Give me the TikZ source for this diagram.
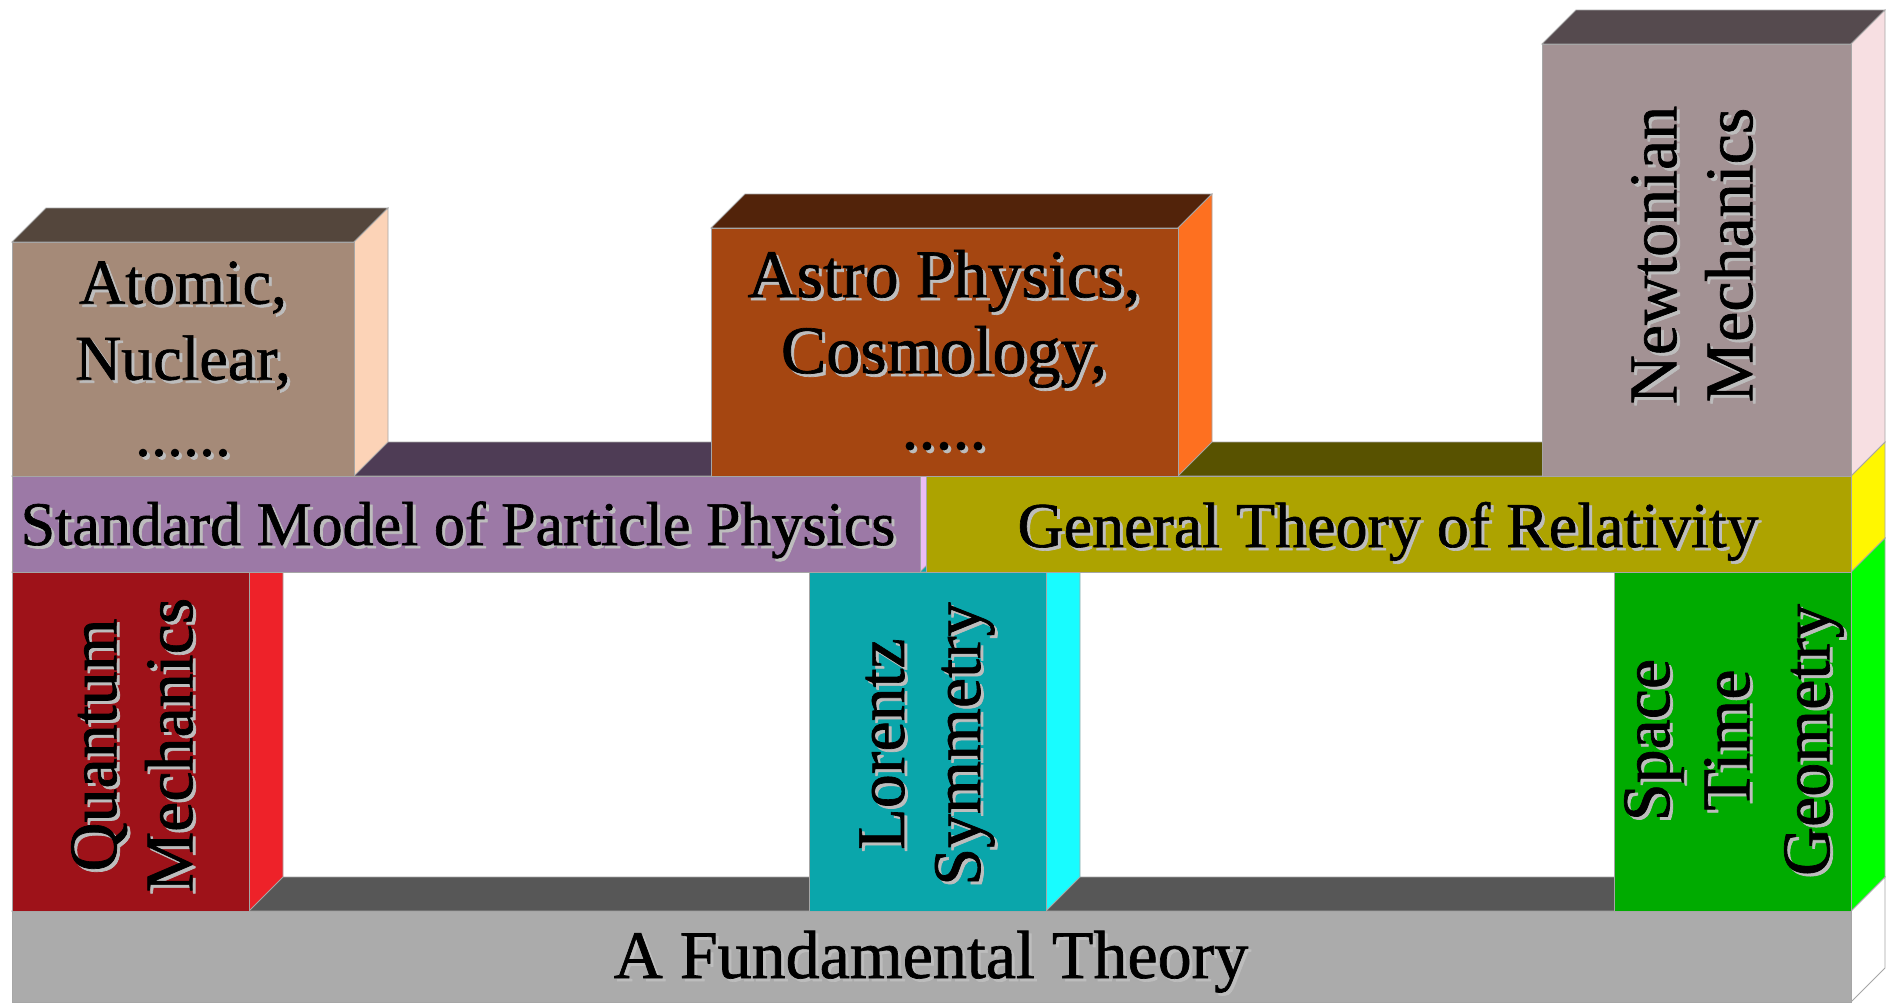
\documentclass[tikz,border=0pt]{standalone}
\usepackage{fontspec}
\setmainfont{Liberation Serif}
\newfontfamily\labelfont{Liberation Serif}[FakeBold=1]

\definecolor{basefront}{HTML}{ABABAB}
\definecolor{basetop}{HTML}{575757}
\definecolor{qmfront}{HTML}{9E1219}
\definecolor{qmside}{HTML}{EE2229}
\definecolor{lsfront}{HTML}{0AA6AB}
\definecolor{lsside}{HTML}{18FCFF}
\definecolor{stfront}{HTML}{00AB00}
\definecolor{stside}{HTML}{00FF00}
\definecolor{smfront}{HTML}{9C79A6}
\definecolor{smtop}{HTML}{4E3C55}
\definecolor{smside}{HTML}{EBBDF5}
\definecolor{grfront}{HTML}{ADA300}
\definecolor{grtop}{HTML}{585200}
\definecolor{grside}{HTML}{FFF700}
\definecolor{anfront}{HTML}{A58A78}
\definecolor{antop}{HTML}{54463C}
\definecolor{anside}{HTML}{FCD3B7}
\definecolor{apfront}{HTML}{A54611}
\definecolor{aptop}{HTML}{52230A}
\definecolor{apside}{HTML}{FE7020}
\definecolor{nmfront}{HTML}{A39294}
\definecolor{nmtop}{HTML}{554A4E}
\definecolor{nmside}{HTML}{F7DFE2}
\definecolor{shadowgray}{HTML}{BDBDBD}

\newcommand{\cubedepth}{34}

% block: x0, y0, x1, y1, front, top, side
\newcommand{\cuboid}[7]{%
  \filldraw[face, fill=#6] (#1,#2) -- ++(\cubedepth,-\cubedepth)
      -- ({#3+\cubedepth},{#2-\cubedepth}) -- (#3,#2) -- cycle;
  \filldraw[face, fill=#7] (#3,#2) -- ++(\cubedepth,-\cubedepth)
      -- ({#3+\cubedepth},{#4-\cubedepth}) -- (#3,#4) -- cycle;
  \filldraw[face, fill=#5] (#1,#2) rectangle (#3,#4);
}

% text with a grey drop shadow
\newcommand{\shadowlabel}[4][]{%
  \node[labeltext, text=shadowgray, #1] (#2-sh) at ([shift={(1.5pt,-1.5pt)}]#3) {#4};
  \node[labeltext, #1] (#2) at (#3) {#4};
}

\begin{document}
\begin{tikzpicture}[x=0.5pt, y=-0.5pt,
    face/.style={draw=black!35, line width=0.4pt},
    labeltext/.style={font=\labelfont\fontsize{32}{38}\selectfont,
        align=center, inner sep=0pt}]

    \useasboundingbox (0,0) rectangle (1899,1002);

    % Foundation
    \cuboid{12}{911}{1851}{1002}{basefront}{basetop}{white}

    % Pillars
    \cuboid{12}{572}{249}{911}{qmfront}{qmfront}{qmside}
    \cuboid{809}{572}{1046}{911}{lsfront}{lsfront}{lsside}
    \cuboid{1614}{572}{1851}{911}{stfront}{stfront}{stside}

    % Theories
    \cuboid{12}{476}{920}{572}{smfront}{smtop}{smside}
    \cuboid{926}{476}{1851}{572}{grfront}{grtop}{grside}

    % Applications
    \cuboid{12}{242}{354}{476}{anfront}{antop}{anside}
    \cuboid{711}{228}{1178}{476}{apfront}{aptop}{apside}
    \cuboid{1542}{44}{1851}{476}{nmfront}{nmtop}{nmside}

    % Labels
    \shadowlabel[font=\labelfont\fontsize{34}{40}\selectfont, anchor=base]{fundamental}{931,978}{A Fundamental Theory}
    \shadowlabel[rotate=90, font=\labelfont\fontsize{34}{38}\selectfont]{quantum}{132,745}{Quantum\\Mechanics}
    \shadowlabel[rotate=90, font=\labelfont\fontsize{34}{38}\selectfont]{lorentz}{927,744}{Lorentz\\Symmetry}
    \shadowlabel[rotate=90, font=\labelfont\fontsize{34}{40}\selectfont]{spacetime}{1734,740}{Space\\Time\\Geometry}
    \shadowlabel[anchor=base, font=\labelfont\fontsize{31}{38}\selectfont]{standard}{458,545}{Standard Model of Particle Physics}
    \shadowlabel[anchor=base]{relativity}{1388,547}{General Theory of Relativity}
    \shadowlabel{atomic}{183,359}{Atomic,\\Nuclear,\\......}
    \shadowlabel[font=\labelfont\fontsize{34}{38}\selectfont]{astro}{944,350}{Astro Physics,\\Cosmology,\\.....}
    \shadowlabel[rotate=90, font=\labelfont\fontsize{34}{38}\selectfont]{newton}{1692,255}{Newtonian\\Mechanics}

\end{tikzpicture}
\end{document}
